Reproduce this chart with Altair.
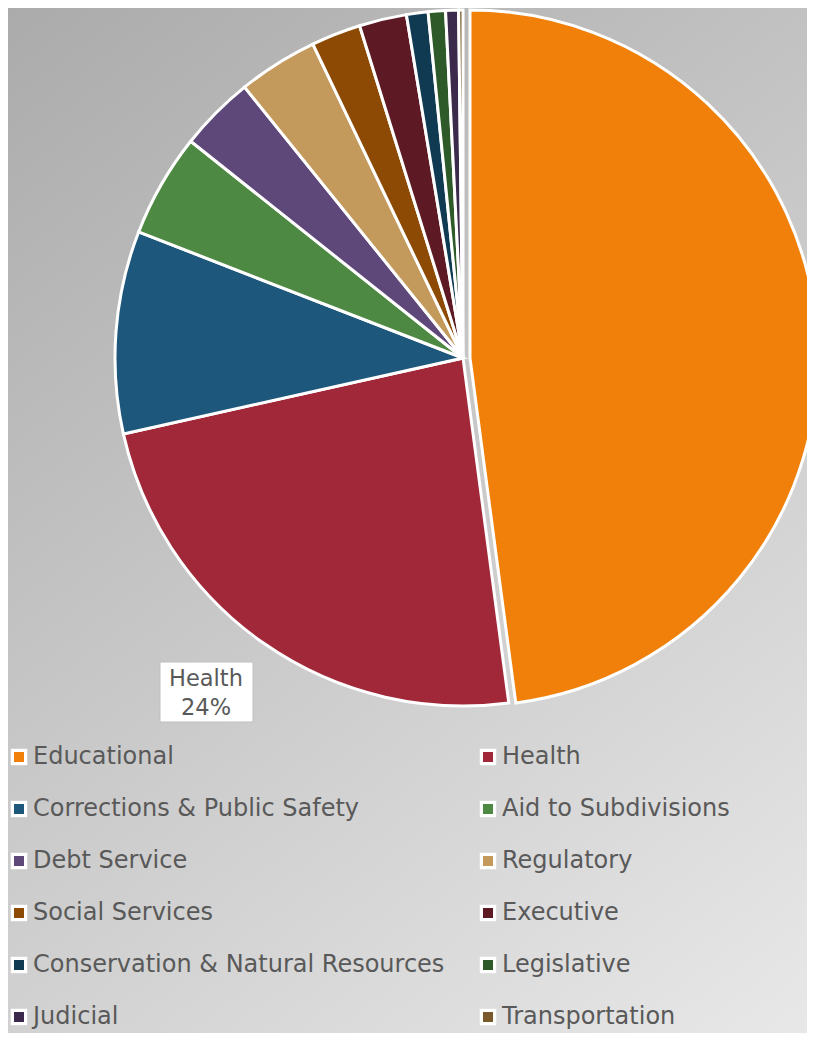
import altair as alt
import pandas as pd

categories = ["Educational", "Health", "Corrections & Public Safety", "Aid to Subdivisions",
              "Debt Service", "Regulatory", "Social Services", "Executive",
              "Conservation & Natural Resources", "Legislative", "Judicial", "Transportation"]
values = [47.9, 23.6, 9.4, 4.8, 3.5, 3.7, 2.3, 2.2, 1.0, 0.8, 0.6, 0.2]
colors = ["#F0800A", "#A12838", "#1D577B", "#4E8943", "#5E487A", "#C49A5C",
          "#8C4A05", "#5E1A24", "#0F3A52", "#2E5A2A", "#3C2A4C", "#7A5A2B"]
labelled = ["Health"]

W, H = 799, 1025
CX, CY, R = 455, 350, 348
EXPLODE = 7
TEXT = "#595959"
FONT = "DejaVu Sans"

df = pd.DataFrame({"cat": categories, "value": values, "order": list(range(len(categories)))})

color = alt.Color("cat:N", scale=alt.Scale(domain=categories, range=colors), legend=None)

bg = alt.Chart(pd.DataFrame({"a": [0]})).mark_rect(
    color=alt.LinearGradient(gradient="linear",
                             stops=[alt.GradientStop(color="#ABABAB", offset=0),
                                    alt.GradientStop(color="#EBEBEB", offset=1)],
                             x1=0, y1=0, x2=0.725, y2=1.243)
).encode(x=alt.value(0), x2=alt.value(W), y=alt.value(0), y2=alt.value(H))

base = alt.Chart(df).transform_joinaggregate(total="sum(value)").transform_window(
    cum="sum(value)", sort=[alt.SortField("order")], frame=[None, 0]
).transform_calculate(
    t0="2*PI*(datum.cum-datum.value)/datum.total",
    t1="2*PI*datum.cum/datum.total",
    pct="format(datum.value/datum.total, '.0%')",
)

arcs = base.transform_filter("datum.cat != 'Educational'").mark_arc(
    radius=R, stroke="white", strokeWidth=3
).encode(theta=alt.Theta("t0:Q", scale=None), theta2="t1:Q", color=color,
         x=alt.value(CX), y=alt.value(CY))

edu = base.transform_filter("datum.cat == 'Educational'").mark_arc(
    radius=R, stroke="white", strokeWidth=3
).encode(theta=alt.Theta("t0:Q", scale=None), theta2="t1:Q", color=color,
         x=alt.value(CX + EXPLODE), y=alt.value(CY))

lab_box = base.transform_filter(alt.FieldOneOfPredicate(field="cat", oneOf=labelled)).mark_rect(
    fill="white", stroke="#BFBFBF", strokeWidth=1
).encode(x=alt.value(152), x2=alt.value(245), y=alt.value(654), y2=alt.value(714))

lab_txt = base.transform_filter(alt.FieldOneOfPredicate(field="cat", oneOf=labelled)).transform_calculate(
    txt="datum.cat + '\\n' + datum.pct"
).mark_text(font=FONT, fontSize=22.5, color=TEXT, align="center", baseline="middle",
            lineBreak="\n", lineHeight=29).encode(
    x=alt.value(198), y=alt.value(671), text="txt:N")

leg = alt.Chart(df).transform_calculate(
    col="datum.order % 2", row="floor(datum.order / 2)"
).transform_calculate(
    sx="11 + datum.col * 469", tx="25 + datum.col * 469", sy="749 + datum.row * 52"
)

leg_bg = leg.mark_square(size=270, color="white", opacity=1).encode(
    x=alt.X("sx:Q", scale=None), y=alt.Y("sy:Q", scale=None))
leg_sq = leg.mark_square(size=100, opacity=1).encode(
    x=alt.X("sx:Q", scale=None), y=alt.Y("sy:Q", scale=None), color=color)
leg_txt = leg.mark_text(font=FONT, fontSize=24, color=TEXT, align="left", baseline="middle").encode(
    x=alt.X("tx:Q", scale=None), y=alt.Y("sy:Q", scale=None), text="cat:N")

chart = alt.layer(bg, arcs, edu, lab_box, lab_txt, leg_bg, leg_sq, leg_txt).properties(
    width=W, height=H, autosize=alt.AutoSizeParams(type="none"), padding=0
).configure_view(stroke=None).configure(background="transparent")

chart.save("out.html", embed_options={"renderer": "svg", "actions": False})
